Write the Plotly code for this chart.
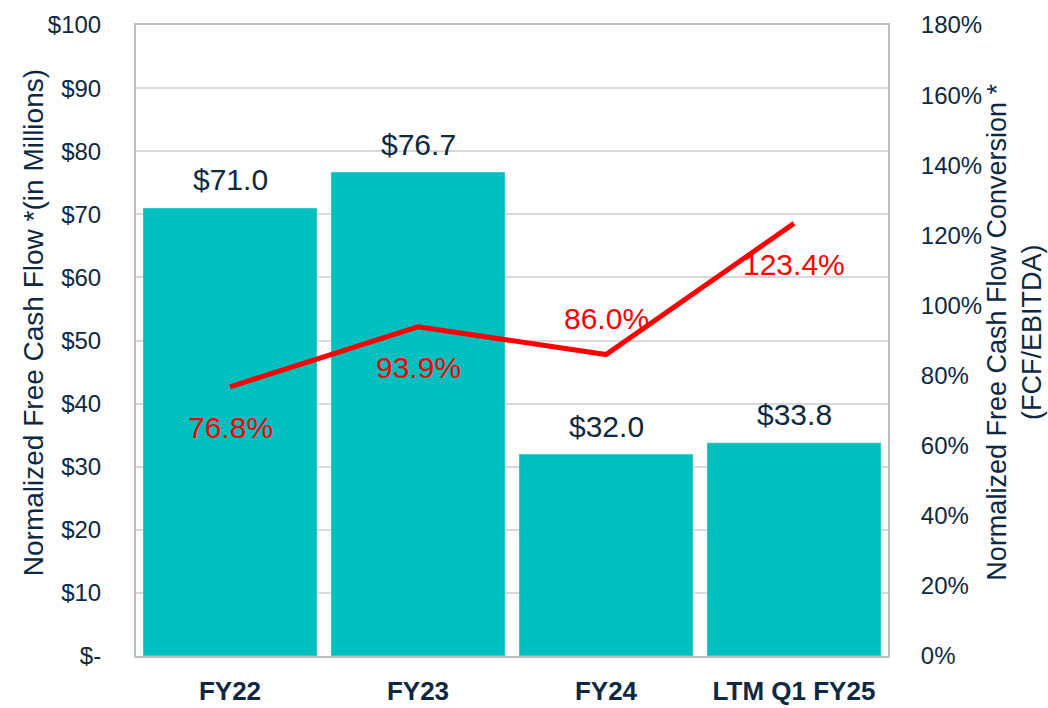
import plotly.graph_objects as go

categories = ["FY22", "FY23", "FY24", "LTM Q1 FY25"]
fcf_values = [71.0, 76.7, 32.0, 33.8]
conversion_pct = [76.8, 93.9, 86.0, 123.4]
left_tick_vals = [0, 10, 20, 30, 40, 50, 60, 70, 80, 90, 100]
left_tick_text = ["$-", "$10", "$20", "$30", "$40", "$50", "$60", "$70", "$80", "$90", "$100"]
right_tick_vals = [0, 20, 40, 60, 80, 100, 120, 140, 160, 180]
right_tick_text = [f"{v}%" for v in right_tick_vals]
pct_label_shift = [-41, -41, 36, -41]

NAVY = "#0E2841"
TEAL = "#00BFBF"
RED = "#FF0000"
FONT = "'Liberation Sans', Arial, sans-serif"

fig = go.Figure()
fig.add_trace(go.Bar(
    x=categories, y=fcf_values, marker_color=TEAL,
    showlegend=False, yaxis="y",
))
fig.add_trace(go.Scatter(
    x=categories, y=conversion_pct, mode="lines",
    line=dict(color=RED, width=5), yaxis="y2", showlegend=False,
))
for c, v in zip(categories, fcf_values):
    fig.add_annotation(x=c, y=v, yref="y", text=f"${v:.1f}", showarrow=False,
                       yanchor="middle", yshift=28, font=dict(size=30, color=NAVY, family=FONT))
for c, v, s in zip(categories, conversion_pct, pct_label_shift):
    fig.add_annotation(x=c, y=v, yref="y2", text=f"{v:.1f}%", showarrow=False,
                       yanchor="middle", yshift=s, font=dict(size=30, color=RED, family=FONT))

fig.add_annotation(xref="paper", yref="paper", x=-0.137, y=0.529, xanchor="center", yanchor="middle",
                   text="Normalized Free Cash Flow *(in Millions)", textangle=-90, showarrow=False,
                   font=dict(size=28, color=NAVY, family=FONT))
fig.add_annotation(xref="paper", yref="paper", x=1.168, y=0.513, xanchor="center", yanchor="middle",
                   text="Normalized Free Cash Flow Conversion *<br>(FCF/EBITDA)", textangle=-90, showarrow=False,
                   font=dict(size=27, color=NAVY, family=FONT))

fig.update_layout(
    width=1048, height=708,
    margin=dict(l=136, r=160, t=25, b=52),
    paper_bgcolor="white", plot_bgcolor="white",
    bargap=0.074,
    font=dict(family=FONT, color=NAVY),
    xaxis=dict(showline=True, linecolor="#BFBFBF", linewidth=2, mirror=True, automargin=False,
               ticks="outside", ticklen=11, tickcolor="rgba(0,0,0,0)",
               tickfont=dict(size=26, color=NAVY, family=FONT, weight="bold")),
    yaxis=dict(range=[0, 100], tickvals=left_tick_vals, ticktext=left_tick_text, automargin=False,
               showgrid=True, gridcolor="#D9D9D9", gridwidth=1.5, zeroline=False,
               showline=True, linecolor="#BFBFBF", linewidth=2,
               ticks="outside", ticklen=28, tickcolor="rgba(0,0,0,0)",
               tickfont=dict(size=24, color=NAVY, family=FONT)),
    yaxis2=dict(range=[0, 180], tickvals=right_tick_vals, ticktext=right_tick_text, automargin=False,
                overlaying="y", side="right", showgrid=False, zeroline=False,
                showline=True, linecolor="#BFBFBF", linewidth=2,
                ticks="outside", ticklen=26, tickcolor="rgba(0,0,0,0)",
                tickfont=dict(size=24, color=NAVY, family=FONT)),
)
fig.write_html("out.html", config={"displayModeBar": False},
               post_script="document.body.style.margin='0';document.body.style.overflow='hidden';")
